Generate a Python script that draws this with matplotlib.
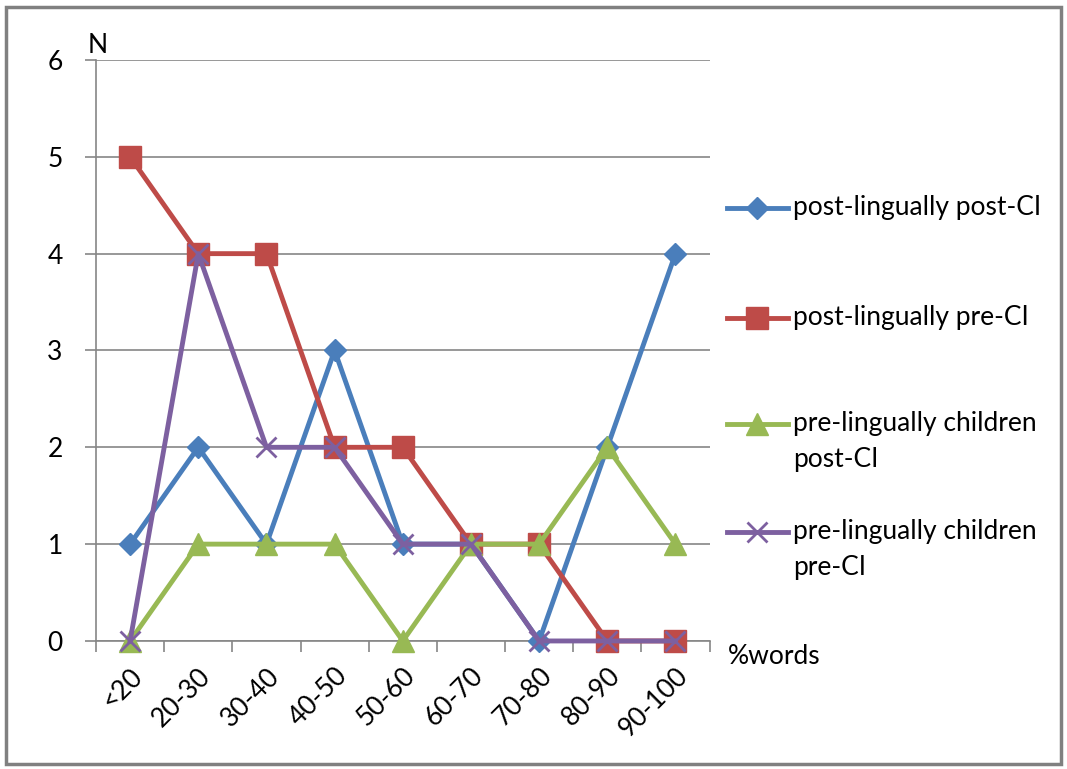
import numpy as np
import matplotlib.pyplot as plt
from matplotlib.lines import Line2D

# dados
categorias = ["<20", "20-30", "30-40", "40-50", "50-60", "60-70", "70-80", "80-90", "90-100"]
post_ling_post_ci = [1, 2, 1, 3, 1, 1, 0, 2, 4]
post_ling_pre_ci = [5, 4, 4, 2, 2, 1, 1, 0, 0]
pre_ling_post_ci = [0, 1, 1, 1, 0, 1, 1, 2, 1]
pre_ling_pre_ci = [0, 4, 2, 2, 1, 1, 0, 0, 0]

nomes = ["post-lingually post-CI", "post-lingually pre-CI",
         "pre-lingually children\npost-CI", "pre-lingually children\npre-CI"]
cores = ["#4A7EBB", "#BE4B48", "#98B954", "#7D60A0"]

plt.rcParams['font.family'] = ['Lato', 'DejaVu Sans']
FS = 19

W, H = 1067, 769
fig = plt.figure(figsize=(W / 100, H / 100), dpi=100)
ax = fig.add_axes([0.090, 0.1665, 0.575, 0.7555])

x = np.arange(len(categorias))
series = [post_ling_post_ci, post_ling_pre_ci, pre_ling_post_ci, pre_ling_pre_ci]
estilos = [dict(marker="D", ms=11), dict(marker="s", ms=16),
           dict(marker="^", ms=16), dict(marker="x", ms=14, mew=2)]

for serie, cor, est in zip(series, cores, estilos):
    ax.plot(x, serie, color=cor, lw=3.5, mec=cor, mfc=cor, zorder=3, clip_on=False, **est)

ax.set_xlim(-0.5, len(categorias) - 0.5)
ax.set_ylim(0, 6)
ax.set_yticks(range(7))
ax.yaxis.grid(True, color="#868686", lw=1.2)
ax.set_axisbelow(True)
for s in ["top", "right"]:
    ax.spines[s].set_visible(False)
for s in ["left", "bottom"]:
    ax.spines[s].set_color("#868686")
    ax.spines[s].set_linewidth(1.2)

ax.set_xticks(x)
ax.set_xticklabels(categorias, rotation=45, ha="right", va="top", rotation_mode="anchor", fontsize=FS)
ax.tick_params(axis="x", which="major", length=0, pad=16)
ax.set_xticks(np.arange(-0.5, len(categorias)), minor=True)
ax.tick_params(axis="x", which="minor", length=8, color="#868686", width=1.2)
ax.tick_params(axis="y", length=8, color="#868686", width=1.2, labelsize=FS, pad=16)

fig.text(88 / W, 1 - 58 / H, "N", fontsize=FS, ha="left", va="bottom")
fig.text(728 / W, 1 - 657 / H, "%words", fontsize=FS, ha="left", va="center")

# legenda desenhada à mão (marcador alinhado com a primeira linha do texto)
leg_y = [208, 318, 424, 532]
for nome, cor, est, yy in zip(nomes, cores, estilos, leg_y):
    yf = 1 - yy / H
    fig.add_artist(Line2D([727 / W, 788 / W], [yf, yf], color=cor, lw=3.5))
    fig.add_artist(Line2D([757 / W], [yf], color=cor, mec=cor, mfc=cor, **est))
    fig.text(793 / W, yf + 13 / H, nome, fontsize=FS, ha="left", va="top", linespacing=1.55)

# moldura
fig.patches.append(plt.Rectangle((0.006, 0.006), 0.988, 0.985, transform=fig.transFigure,
                                 fill=False, edgecolor="#808080", lw=2.5))

plt.savefig("out.png", dpi=100)
